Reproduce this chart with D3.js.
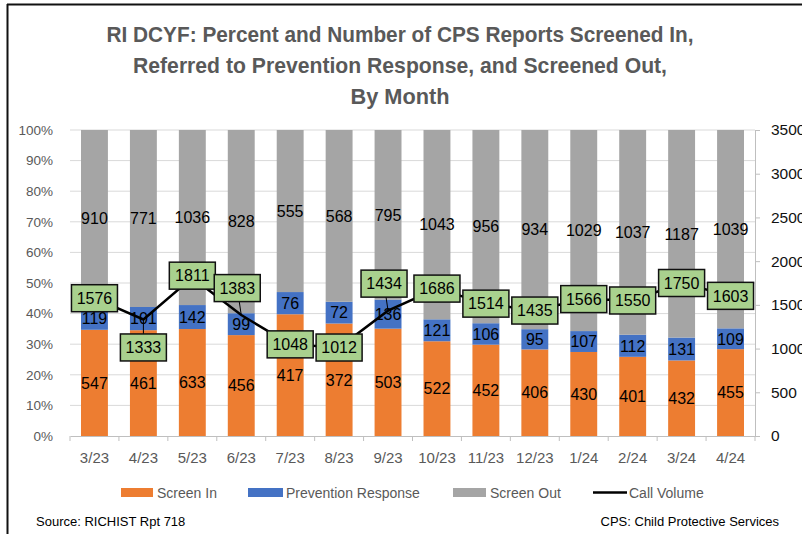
<!DOCTYPE html>
<html>
<head>
<meta charset="utf-8">
<script src="https://cdn.jsdelivr.net/npm/d3@7"></script>
<style>
  body { margin: 0; background: #fff; }
  svg { display: block; font-family: "Liberation Sans", Arial, sans-serif; }
</style>
</head>
<body>
<svg id="chart" width="802" height="534"></svg>
<script>
// data
var months = ["3/23", "4/23", "5/23", "6/23", "7/23", "8/23", "9/23", "10/23", "11/23", "12/23", "1/24", "2/24", "3/24", "4/24"];
var screenIn = [547, 461, 633, 456, 417, 372, 503, 522, 452, 406, 430, 401, 432, 455];
var prevention = [119, 101, 142, 99, 76, 72, 136, 121, 106, 95, 107, 112, 131, 109];
var screenOut = [910, 771, 1036, 828, 555, 568, 795, 1043, 956, 934, 1029, 1037, 1187, 1039];
var callVolume = [1576, 1333, 1811, 1383, 1048, 1012, 1434, 1686, 1514, 1435, 1566, 1550, 1750, 1603];
var pctTicks = [0, 0.1, 0.2, 0.3, 0.4, 0.5, 0.6, 0.7, 0.8, 0.9, 1];
var countTicks = [0, 500, 1000, 1500, 2000, 2500, 3000, 3500];
var titleLines = ["RI DCYF: Percent and Number of CPS Reports Screened In,",
                  "Referred to Prevention Response, and Screened Out,",
                  "By Month"];

// label nudges for the call volume boxes (Excel moved a few of them)
var boxNudge = [[0,0],[0,28],[0,-2],[-4,-27],[0,0],[0,0],[-4,-27],[0,0],[0,0],[0,0],[0,0],[0,0],[0,0],[0,0]];

var svg = d3.select("#chart"),
    margin = {top: 130, left: 70, right: 47, bottom: 98},
    width = 802 - margin.left - margin.right,
    height = 534 - margin.top - margin.bottom;

var colors = {in: "#ED7D31", prev: "#4472C4", out: "#A5A5A5"};

// frame
svg.append("line").attr("x1", 7.5).attr("x2", 7.5).attr("y1", 4).attr("y2", 534)
  .attr("stroke", "#111").attr("stroke-width", 2);
svg.append("line").attr("x1", 7).attr("x2", 802).attr("y1", 4.5).attr("y2", 4.5)
  .attr("stroke", "#111").attr("stroke-width", 2);

// title
var titleWidths = [587, 534, 99];
svg.selectAll(".title").data(titleLines).enter().append("text")
  .attr("class", "title")
  .attr("x", 400).attr("y", function(d, i) { return 42 + i * 31; })
  .attr("text-anchor", "middle")
  .attr("textLength", function(d, i) { return titleWidths[i]; })
  .attr("lengthAdjust", "spacingAndGlyphs")
  .style("font-size", "22px").style("font-weight", "bold").attr("fill", "#595959")
  .text(function(d) { return d; });

var g = svg.append("g").attr("transform", "translate(" + margin.left + "," + margin.top + ")");

var x = d3.scaleBand().domain(months).range([0, width]).paddingInner(0.45).paddingOuter(0.225);
var xb = d3.scaleBand().domain(months).range([0, width]);
var y = d3.scaleLinear().domain([0, 1]).range([height, 0]);
var y2 = d3.scaleLinear().domain([0, 3500]).range([height, 0]);

// gridlines
g.selectAll(".grid").data(pctTicks.slice(1)).enter().append("line")
  .attr("x1", 0).attr("x2", width)
  .attr("y1", function(d) { return y(d); }).attr("y2", function(d) { return y(d); })
  .attr("stroke", "#d9d9d9").attr("stroke-width", 1);

// left axis labels
var yAxis = d3.axisLeft(y).tickValues(pctTicks).tickFormat(d3.format(".0%")).tickSize(0).tickPadding(17);
var ya = g.append("g").call(yAxis);
ya.select(".domain").remove();
ya.selectAll("text").style("font-size", "13.5px").attr("fill", "#595959");

// stacked bars
var rows = months.map(function(m, i) {
  return {month: m, in: screenIn[i], prev: prevention[i], out: screenOut[i]};
});
var stack = d3.stack().keys(["in", "prev", "out"]).offset(d3.stackOffsetExpand);
var series = stack(rows);

var layer = g.selectAll(".layer").data(series).enter().append("g")
  .attr("fill", function(d) { return colors[d.key]; });
layer.selectAll("rect").data(function(d) { return d; }).enter().append("rect")
  .attr("x", function(d) { return x(d.data.month); })
  .attr("width", x.bandwidth())
  .attr("y", function(d) { return y(d[1]); })
  .attr("height", function(d) { return y(d[0]) - y(d[1]); });

// segment labels
series.forEach(function(s) {
  g.selectAll(".lbl-" + s.key).data(s).enter().append("text")
    .attr("x", function(d) { return x(d.data.month) + x.bandwidth() / 2; })
    .attr("y", function(d) { return (y(d[0]) + y(d[1])) / 2; })
    .attr("dy", "0.36em")
    .attr("text-anchor", "middle")
    .style("font-size", "16px").attr("fill", "#000")
    .text(function(d) { return d.data[s.key]; });
});

// bottom axis
var xAxis = d3.axisBottom(xb).tickSize(0).tickPadding(16);
var xa = g.append("g").attr("transform", "translate(0," + height + ")").call(xAxis);
xa.select(".domain").attr("stroke", "#bfbfbf");
xa.selectAll("text").style("font-size", "15px").attr("fill", "#595959");
g.selectAll(".xtick").data(months.concat([null])).enter().append("line")
  .attr("x1", function(d, i) { return i * xb.step(); })
  .attr("x2", function(d, i) { return i * xb.step(); })
  .attr("y1", height).attr("y2", height + 5)
  .attr("stroke", "#bfbfbf");

// right axis (labels run past the right edge, as in the original export)
var rAxis = d3.axisRight(y2).tickValues(countTicks).tickFormat(d3.format("d")).tickSize(5).tickPadding(11);
var ra = g.append("g").attr("transform", "translate(" + width + ",0)").call(rAxis);
ra.selectAll("path, line").attr("stroke", "#bfbfbf");
ra.selectAll("text").style("font-size", "15.5px").attr("fill", "#111");

// call volume line
var cx = function(i) { return x(months[i]) + x.bandwidth() / 2; };
var line = d3.line().x(function(d, i) { return cx(i); }).y(function(d) { return y2(d); });
g.append("path").datum(callVolume).attr("d", line)
  .attr("fill", "none").attr("stroke", "#000").attr("stroke-width", 2.5);

// leader lines for moved labels
g.selectAll(".leader").data(callVolume).enter()
  .filter(function(d, i) { return Math.abs(boxNudge[i][1]) > 10; })
  .append("line")
  .attr("x1", function(d) { var i = callVolume.indexOf(d); return cx(i); })
  .attr("y1", function(d) { return y2(d); })
  .attr("x2", function(d) { var i = callVolume.indexOf(d); return cx(i) + boxNudge[i][0]; })
  .attr("y2", function(d) { var i = callVolume.indexOf(d); return y2(d) + boxNudge[i][1]; })
  .attr("stroke", "#000").attr("stroke-width", 1);

// call volume boxes
var bw = 46, bh = 27;
var boxes = g.selectAll(".box").data(callVolume).enter().append("g")
  .attr("transform", function(d, i) {
    return "translate(" + (cx(i) + boxNudge[i][0]) + "," + (y2(d) + boxNudge[i][1]) + ")";
  });
boxes.append("rect").attr("x", -bw / 2).attr("y", -bh / 2).attr("width", bw).attr("height", bh)
  .attr("fill", "#A9D18E").attr("stroke", "#111").attr("stroke-width", 1.5);
boxes.append("text").attr("text-anchor", "middle").attr("dy", "0.36em")
  .style("font-size", "16px").attr("fill", "#000")
  .text(function(d) { return d; });

// legend
var legend = [
  {name: "Screen In", color: colors.in, x: 121, w: 32, tx: 157},
  {name: "Prevention Response", color: colors.prev, x: 248, w: 35, tx: 286},
  {name: "Screen Out", color: colors.out, x: 453, w: 33, tx: 490}
];
var lg = svg.append("g");
lg.selectAll("rect").data(legend).enter().append("rect")
  .attr("x", function(d) { return d.x; }).attr("y", 488).attr("width", function(d) { return d.w; }).attr("height", 9)
  .attr("fill", function(d) { return d.color; });
lg.selectAll("text").data(legend.concat([{name: "Call Volume", tx: 629}])).enter().append("text")
  .attr("x", function(d) { return d.tx; }).attr("y", 497.5)
  .style("font-size", "14px").attr("fill", "#595959")
  .text(function(d) { return d.name; });
lg.append("line").attr("x1", 593).attr("x2", 627).attr("y1", 492.5).attr("y2", 492.5)
  .attr("stroke", "#000").attr("stroke-width", 2.5);

// footnotes
svg.append("text").attr("x", 36).attr("y", 526).style("font-size", "13px").attr("fill", "#000")
  .text("Source: RICHIST Rpt 718");
svg.append("text").attr("x", 779).attr("y", 526).attr("text-anchor", "end").style("font-size", "13px").attr("fill", "#000")
  .text("CPS: Child Protective Services");
</script>
</body>
</html>
